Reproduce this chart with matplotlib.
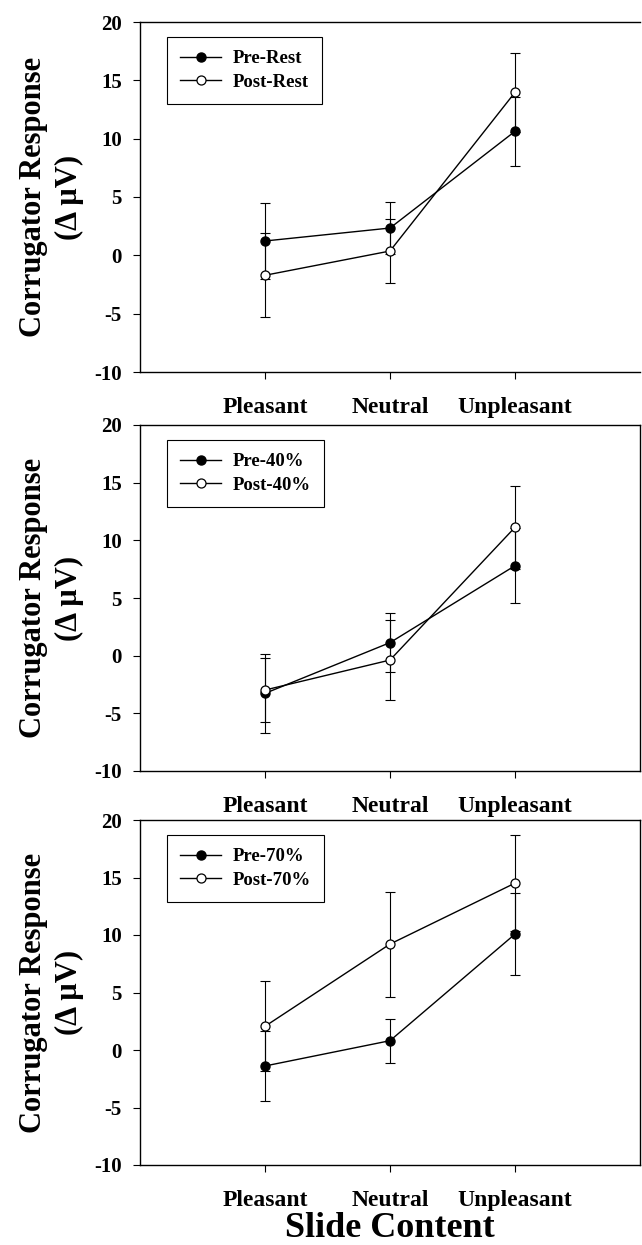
import matplotlib.pyplot as plt
import numpy as np

SERIF = ['Liberation Serif', 'DejaVu Serif']

categories = ['Pleasant', 'Neutral', 'Unpleasant']

# panel 1: rest
pre_rest = [1.23, 2.34, 10.63]
pre_rest_se = [3.26, 2.20, 2.97]
post_rest = [-1.71, 0.37, 13.97]
post_rest_se = [3.60, 2.77, 3.37]

# panel 2: 40%
pre_40 = [-3.27, 1.13, 7.80]
pre_40_se = [3.45, 2.57, 3.26]
post_40 = [-2.98, -0.38, 11.13]
post_40_se = [2.75, 3.47, 3.58]

# panel 3: 70%
pre_70 = [-1.39, 0.81, 10.08]
pre_70_se = [3.08, 1.90, 3.53]
post_70 = [2.06, 9.21, 14.51]
post_70_se = [3.90, 4.56, 4.20]

panels = [
    ('Pre-Rest', pre_rest, pre_rest_se, 'Post-Rest', post_rest, post_rest_se),
    ('Pre-40%', pre_40, pre_40_se, 'Post-40%', post_40, post_40_se),
    ('Pre-70%', pre_70, pre_70_se, 'Post-70%', post_70, post_70_se),
]

# axes boxes in pixels (left, top, right, bottom) on a 642x1245 canvas
W, H = 642, 1245
boxes = [(140, 22, 640, 372), (140, 425, 640, 771), (140, 820, 640, 1165)]

plt.rcParams['font.family'] = SERIF
plt.rcParams['font.weight'] = 'bold'
plt.rcParams['axes.unicode_minus'] = False

fig = plt.figure(figsize=(W / 100, H / 100), dpi=100, facecolor='white')
x = np.arange(1, len(categories) + 1)

for i, ((l1, y1, e1, l2, y2, e2), (bl, bt, br, bb)) in enumerate(zip(panels, boxes)):
    ax = fig.add_axes([bl / W, (H - bb) / H, (br - bl) / W, (bb - bt) / H])
    for y, e in [(y1, e1), (y2, e2)]:
        ax.errorbar(x, y, yerr=e, fmt='none', ecolor='black', elinewidth=0.8,
                    capsize=3.5, capthick=0.8, zorder=2)
    ax.plot(x, y1, '-o', color='black', lw=1.0, ms=6.5, mfc='black',
            mec='black', label=l1, zorder=4)
    ax.plot(x, y2, '-o', color='black', lw=1.0, ms=6.5, mfc='white',
            mec='black', mew=0.9, label=l2, zorder=5)

    ax.set_xlim(0, 4)
    ax.set_ylim(-10, 20)
    ax.set_yticks(np.arange(-10, 21, 5))
    ax.set_xticks(x)
    ax.set_xticklabels(categories, fontsize=17, fontweight='bold')
    ax.tick_params(axis='y', direction='out', length=5, width=0.8,
                   labelsize=15, pad=8)
    ax.tick_params(axis='x', direction='out', length=5, width=0.8, pad=13)
    for lab in ax.get_yticklabels():
        lab.set_fontweight('bold')
    for s in ax.spines.values():
        s.set_linewidth(1.0)
    if i == 0:
        ax.spines['right'].set_visible(False)

    ax.set_ylabel('Corrugator Response\n(\u0394 \u00b5V)', fontsize=22,
                  fontweight='bold', linespacing=1.3)
    ax.yaxis.set_label_coords((84 - bl) / (br - bl), 0.5)

    leg = ax.legend(loc='upper left', bbox_to_anchor=(0.054, 0.957),
                    borderaxespad=0, fancybox=False, edgecolor='black',
                    framealpha=1, prop={'family': SERIF, 'weight': 'bold', 'size': 13.5},
                    handlelength=2.2, handletextpad=0.6, borderpad=0.7,
                    labelspacing=0.35)
    leg.get_frame().set_linewidth(0.8)

fig.text((140 + 640) / 2 / W, (H - 1237) / H, 'Slide Content', fontsize=26,
         fontweight='bold', ha='center', va='baseline')

plt.savefig('out.png', dpi=100, facecolor='white')
plt.close()
